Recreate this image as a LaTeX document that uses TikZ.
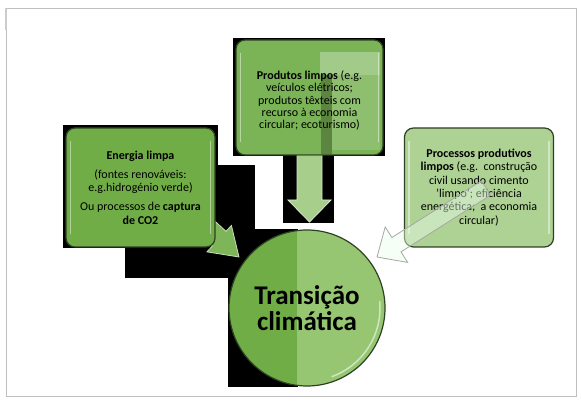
\documentclass[tikz,border=0pt]{standalone}
\usepackage{fontspec}
\setmainfont{Carlito}
\usetikzlibrary{calc, backgrounds}

\definecolor{leafgreen}{RGB}{112,173,71}
\definecolor{palegreen}{RGB}{174,209,148}
\definecolor{softgreen}{RGB}{150,198,114}
\definecolor{darkrim}{RGB}{45,66,34}
\definecolor{arrowgreen}{RGB}{168,206,140}

% block arrow: [style]{tail}{tip}{head length}{half shaft}{half head}
\newcommand{\blockarrow}[6][]{%
  \coordinate (ba-base) at ($(#3)!#4!(#2)$);
  \draw[#1] (#3) -- ($(ba-base)!#6!90:(#3)$) -- ($(ba-base)!#5!90:(#3)$)
    -- ($(#2)!#5!90:(#3)$) -- ($(#2)!#5!-90:(#3)$)
    -- ($(ba-base)!#5!-90:(#3)$) -- ($(ba-base)!#6!-90:(#3)$) -- cycle;
}

\begin{document}
\begin{tikzpicture}[x=1pt, y=1pt,
	greenbox/.style={draw=darkrim, line width=1.2pt, rounded corners=9pt, fill=leafgreen,
		minimum width=149pt, minimum height=119pt, align=center, inner sep=2pt,
		font=\fontsize{12}{13.3}\selectfont},
	boxtext/.style={align=center, font=\fontsize{12}{12.3}\selectfont},
	glow/.style={white, opacity=0.45, line width=1.5pt, line cap=round},
	]

	\useasboundingbox (0,0) rectangle (581,401);
	\draw[gray!50, line width=0.8pt] (6,5) rectangle (576,393);
	\draw[gray!40, line width=2pt] (6,393) -- (6,371);

	% boxes
	\node[greenbox] (energia) at (140.5,213.5) {\textbf{Energia limpa}\\[6pt]
		(fontes renováveis:\\ e.g.hidrogénio verde)\\[6pt]
		Ou processos de \textbf{captura}\\ \textbf{de CO2}};
	\node[greenbox, fill=leafgreen!92!white, minimum width=147pt, minimum height=115pt]
		(produtos) at (309.5,303.5) {};
	\node[greenbox, fill=palegreen] (processos) at (479,213.5)
		{\textbf{Processos produtivos}\\ \textbf{limpos} (e.g.\ \ construção\\
		civil usando cimento\\ 'limpo'; eficiência\\ energética;\ \ a economia\\ circular)};

	% shading left over in the top box
	\fill[white, opacity=0.3] (320,326) rectangle (380,349);
	\fill[black, opacity=0.25] (321,246.6) rectangle (332,326);
	\fill[white, opacity=0.15] (332,251) rectangle (380,326);

	\node[boxtext] (produtostext) at ([yshift=-3pt]produtos.center)
		{\textbf{Produtos limpos} (e.g.\\ veículos elétricos;\\ produtos têxteis com\\
		recurso à economia\\ circular; ecoturismo)};

	\foreach \b in {energia, produtos, processos} {
		\draw[glow] ([xshift=5pt, yshift=-14pt]\b.north west) -- ([xshift=5pt, yshift=14pt]\b.south west);
		\draw[glow] ([xshift=-5pt, yshift=-14pt]\b.north east) -- ([xshift=-5pt, yshift=14pt]\b.south east);
	}

	% circle
	\node[circle, minimum size=156pt, draw=darkrim, line width=1.2pt, align=center,
		font=\fontsize{27}{26}\selectfont\bfseries,
		path picture={
			\fill[leafgreen] (path picture bounding box.south west) rectangle ($(path picture bounding box.north)+(-10pt,0)$);
			\fill[softgreen] ($(path picture bounding box.south)+(-10pt,0)$) rectangle (path picture bounding box.north east);
		}] (transicao) at (307,93) {Transição\\climática};
	\draw[glow, opacity=0.55] ($(transicao.center)+(-70:73pt)$) arc[start angle=-70, end angle=5, radius=73pt];

	\coordinate (tipdown) at (309.5,179);
	\coordinate (tipleft) at (239,144);
	\coordinate (tailleft) at (159,218);
	\coordinate (tipright) at (377,144);
	\coordinate (tailright) at (486,213);

	\begin{scope}[on background layer]
		% black patches
		\fill (233,245) rectangle (385,363);
		\fill (283,178) rectangle (334,245);
		\fill (63,153) rectangle (218,276);
		\fill (125,123) rectangle (255,236);
		\fill (228,14) rectangle (298,172);
		% arrows into the circle
		\blockarrow[fill=arrowgreen, draw=white!55!arrowgreen, line width=0.8pt]{produtos.south}{tipdown}{22pt}{12.5pt}{21.5pt}
		\blockarrow[fill=leafgreen!90!white, draw=white!60!leafgreen, line width=0.8pt]{tailleft}{tipleft}{27pt}{10pt}{18pt}
	\end{scope}
	\blockarrow[fill=green!8!white, fill opacity=0.45, draw=gray!70, line width=0.8pt]{tailright}{tipright}{23pt}{8.5pt}{21pt}

\end{tikzpicture}
\end{document}
